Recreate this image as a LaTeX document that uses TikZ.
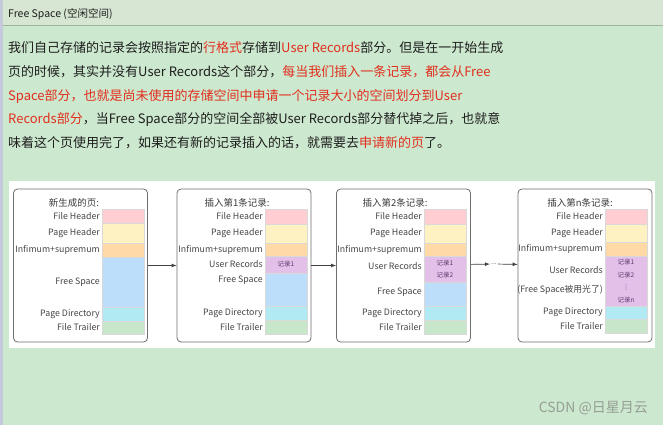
\documentclass[tikz,border=0pt]{standalone}
\usepackage{fontspec}
\setmainfont{Noto Sans CJK SC}
\newfontfamily\symfont{DejaVu Sans}
\usetikzlibrary{positioning}

\definecolor{bggreen}{RGB}{204,232,206}
\definecolor{headgreen}{RGB}{214,230,210}
\definecolor{headline}{RGB}{160,180,160}
\definecolor{sidestrip}{RGB}{196,202,220}
\definecolor{bodytext}{RGB}{30,30,30}
\definecolor{hotred}{RGB}{226,46,30}
\definecolor{pageborder}{RGB}{110,110,110}
\definecolor{labeltext}{RGB}{70,70,70}
\definecolor{recordtext}{RGB}{95,60,110}
\definecolor{fhpink}{RGB}{255,205,210}
\definecolor{phyellow}{RGB}{255,242,194}
\definecolor{infor}{RGB}{255,218,166}
\definecolor{urpurple}{RGB}{226,192,232}
\definecolor{fsblue}{RGB}{188,222,251}
\definecolor{pdcyan}{RGB}{178,234,244}
\definecolor{ftgreen}{RGB}{200,230,202}
\definecolor{markgray}{RGB}{150,158,150}

\newcommand{\hot}[1]{\textcolor{hotred}{#1}}

\tikzset{
  page/.style={rectangle, rounded corners=4pt, draw=pageborder, line width=0.8pt, fill=white, minimum width=134pt, minimum height=153pt},
  cell/.style={rectangle, draw=black!15, line width=0.4pt, outer sep=0pt, inner sep=0pt, minimum width=42pt, text=recordtext, align=center, font=\fontsize{6.5}{12.5}\selectfont},
  lbl/.style={inner sep=0pt, text=labeltext, font=\fontsize{8.8}{10}\selectfont},
  pagetitle/.style={inner sep=0pt, text=labeltext!85!black, font=\fontsize{9.5}{11}\selectfont},
  bodyline/.style={anchor=base west, inner sep=0pt, text=bodytext, font=\fontsize{13}{16}\selectfont},
  arrow/.style={-latex, line width=0.7pt, draw=black!75}
}

\begin{document}
\begin{tikzpicture}[x=1pt, y=-1pt]
\useasboundingbox (0,0) rectangle (663,425);
\fill[bggreen] (0,0) rectangle (663,425);
\fill[headgreen] (0,0) rectangle (663,25);
\draw[headline, line width=0.6pt] (0,25) -- (663,25);
\fill[sidestrip] (0,0) rectangle (3,425);

% 标题栏
\node[anchor=west, inner sep=0pt, text=bodytext, font=\fontsize{10.5}{12}\selectfont] (head) at (8,14) {Free Space (空闲空间)};

% 正文
\node[bodyline] (line1) at (8,53) {我们自己存储的记录会按照指定的\hot{行格式}存储到\hot{User Records}部分。但是在一开始生成};
\node[bodyline] (line2) at (8,77) {页的时候，其实并没有User Records这个部分，\hot{每当我们插入一条记录，都会从Free}};
\node[bodyline] (line3) at (8,100) {\hot{Space部分，也就是尚未使用的存储空间中申请一个记录大小的空间划分到User}};
\node[bodyline] (line4) at (8,123) {\hot{Records部分}，当Free Space部分的空间全部被User Records部分替代掉之后，也就意};
\node[bodyline] (line5) at (8,147) {味着这个页使用完了，如果还有新的记录插入的话，就需要去\hot{申请新的页}了。};

% 图片区域
\fill[white] (9,181) rectangle (655,348);

% 新生成的页
\node[page] (page1) at (80.5,265.5) {};
\node[pagetitle] (t1) at (74,203) {新生成的页:};
\node[cell, fill=fhpink, minimum height=14pt, anchor=north west] (fh1) at (102,209) {};
\node[cell, fill=phyellow, minimum height=20pt, below=0pt of fh1] (ph1) {};
\node[cell, fill=infor, minimum height=14pt, below=0pt of ph1] (inf1) {};
\node[cell, fill=fsblue, minimum height=50pt, below=0pt of inf1] (fs1) {};
\node[cell, fill=pdcyan, minimum height=14pt, below=0pt of fs1] (pd1) {};
\node[cell, fill=ftgreen, minimum height=13pt, below=0pt of pd1] (ft1) {};
\node[lbl, left=2pt of fh1] {File Header};
\node[lbl, left=2pt of ph1] {Page Header};
\node[lbl, left=2pt of inf1] {Infimum+supremum};
\node[lbl, left=2pt of fs1] {Free Space};
\node[lbl, left=2pt of pd1] {Page Directory};
\node[lbl, left=2pt of ft1] {File Trailer};

% 插入第1条记录
\node[page] (page2) at (244,265.5) {};
\node[pagetitle] (t2) at (237,203) {插入第1条记录:};
\node[cell, fill=fhpink, minimum height=15pt, anchor=north west] (fh2) at (265,209) {};
\node[cell, fill=phyellow, minimum height=19pt, below=0pt of fh2] (ph2) {};
\node[cell, fill=infor, minimum height=13pt, below=0pt of ph2] (inf2) {};
\node[cell, fill=urpurple, minimum height=17pt, below=0pt of inf2] (ur2) {记录1};
\node[cell, fill=fsblue, minimum height=33pt, below=0pt of ur2] (fs2) {};
\node[cell, fill=pdcyan, minimum height=14pt, below=0pt of fs2] (pd2) {};
\node[cell, fill=ftgreen, minimum height=14pt, below=0pt of pd2] (ft2) {};
\node[lbl, left=2pt of fh2] {File Header};
\node[lbl, left=2pt of ph2] {Page Header};
\node[lbl, left=2pt of inf2] {Infimum+supremum};
\node[lbl, left=2pt of ur2] {User Records};
\node[lbl, left=2pt of fs2, yshift=9pt] {Free Space};
\node[lbl, left=2pt of pd2] {Page Directory};
\node[lbl, left=2pt of ft2] {File Trailer};

% 插入第2条记录
\node[page] (page3) at (403.5,265.5) {};
\node[pagetitle] (t3) at (395,203) {插入第2条记录:};
\node[cell, fill=fhpink, minimum height=15pt, anchor=north west] (fh3) at (424,209) {};
\node[cell, fill=phyellow, minimum height=19pt, below=0pt of fh3] (ph3) {};
\node[cell, fill=infor, minimum height=13pt, below=0pt of ph3] (inf3) {};
\node[cell, fill=urpurple, minimum height=26pt, below=0pt of inf3, font=\fontsize{6.5}{12}\selectfont] (ur3) {记录1\\记录2};
\node[cell, fill=fsblue, minimum height=24pt, below=0pt of ur3] (fs3) {};
\node[cell, fill=pdcyan, minimum height=14pt, below=0pt of fs3] (pd3) {};
\node[cell, fill=ftgreen, minimum height=14pt, below=0pt of pd3] (ft3) {};
\node[lbl, left=2pt of fh3] {File Header};
\node[lbl, left=2pt of ph3] {Page Header};
\node[lbl, left=2pt of inf3] {Infimum+supremum};
\node[lbl, left=2pt of ur3, yshift=3pt] {User Records};
\node[lbl, left=2pt of fs3, yshift=2pt] {Free Space};
\node[lbl, left=2pt of pd3] {Page Directory};
\node[lbl, left=2pt of ft3] {File Trailer};

% 插入第n条记录
\node[page] (page4) at (585,265.5) {};
\node[pagetitle] (t4) at (580,203) {插入第n条记录:};
\node[cell, fill=fhpink, minimum height=15pt, anchor=north west] (fh4) at (605,209) {};
\node[cell, fill=phyellow, minimum height=18pt, below=0pt of fh4] (ph4) {};
\node[cell, fill=infor, minimum height=14pt, below=0pt of ph4] (inf4) {};
\node[cell, fill=urpurple, minimum height=50pt, below=0pt of inf4] (ur4) {记录1\\记录2\\{\symfont ⋮}\\记录n};
\node[cell, fill=pdcyan, minimum height=13pt, below=0pt of ur4] (pd4) {};
\node[cell, fill=ftgreen, minimum height=14pt, below=0pt of pd4] (ft4) {};
\node[lbl, left=2pt of fh4] {File Header};
\node[lbl, left=2pt of ph4] {Page Header};
\node[lbl, left=2pt of inf4] {Infimum+supremum};
\node[lbl, left=2pt of ur4, yshift=11pt] {User Records};
\node[lbl, left=2pt of ur4, yshift=-9pt] {(Free Space被用光了)};
\node[lbl, left=2pt of pd4] {Page Directory};
\node[lbl, left=2pt of ft4] {File Trailer};

% 箭头
\node[lbl, inner sep=1pt, font=\fontsize{7}{8}\selectfont] (dots) at (494,264) {...};
\draw[arrow] (page1) -- (page2);
\draw[arrow] (page2) -- (page3);
\draw[arrow] (page3) -- (dots);
\draw[arrow] (dots) -- (page4);

% 水印
\node[anchor=east, inner sep=0pt, text=markgray, font=\fontsize{14}{16}\selectfont] (mark) at (648,408) {CSDN @日星月云};
\end{tikzpicture}
\end{document}
